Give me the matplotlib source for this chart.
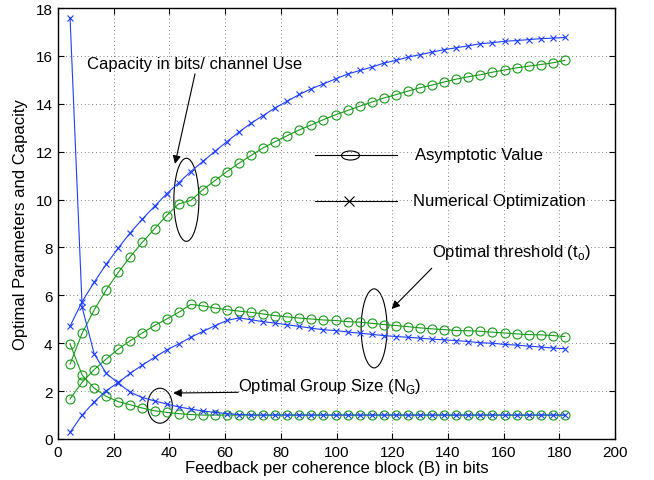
import matplotlib
matplotlib.use('Agg')
import matplotlib.pyplot as plt
import numpy as np
from matplotlib.patches import Ellipse
from matplotlib.path import Path

plt.rcParams['font.family'] = ['Liberation Sans', 'DejaVu Sans']
plt.rcParams['mathtext.fontset'] = 'custom'
plt.rcParams['mathtext.rm'] = 'Liberation Sans'

# feedback bits per coherence block
B = [4.33, 8.67, 13.0, 17.33, 21.67, 26.0, 30.33, 34.67, 39.0, 43.33,
     47.67, 52.0, 56.33, 60.67, 65.0, 69.33, 73.67, 78.0, 82.33, 86.67,
     91.0, 95.33, 99.67, 104.0, 108.33, 112.67, 117.0, 121.33, 125.67, 130.0,
     134.33, 138.67, 143.0, 147.33, 151.67, 156.0, 160.33, 164.67, 169.0, 173.33,
     177.67, 182.0]

# capacity
cap_num = [4.71, 5.74, 6.55, 7.30, 7.98, 8.62, 9.19, 9.72, 10.24, 10.70,
           11.17, 11.59, 12.01, 12.42, 12.82, 13.19, 13.51, 13.83, 14.11, 14.39,
           14.63, 14.83, 15.04, 15.24, 15.39, 15.53, 15.70, 15.81, 15.95, 16.05,
           16.16, 16.26, 16.34, 16.42, 16.51, 16.55, 16.61, 16.64, 16.68, 16.72,
           16.74, 16.77]
cap_asy = [3.13, 4.42, 5.39, 6.23, 6.96, 7.62, 8.22, 8.78, 9.33, 9.82,
           9.96, 10.41, 10.79, 11.17, 11.52, 11.84, 12.16, 12.42, 12.67, 12.91,
           13.12, 13.34, 13.54, 13.72, 13.90, 14.07, 14.24, 14.38, 14.53, 14.67,
           14.78, 14.91, 15.03, 15.13, 15.21, 15.32, 15.41, 15.50, 15.57, 15.64,
           15.71, 15.81]

# optimal threshold
thr_num = [0.28, 1.00, 1.55, 2.02, 2.36, 2.75, 3.09, 3.41, 3.72, 3.97,
           4.25, 4.49, 4.73, 4.95, 5.06, 4.98, 4.90, 4.84, 4.77, 4.70,
           4.63, 4.56, 4.53, 4.47, 4.42, 4.37, 4.32, 4.28, 4.25, 4.21,
           4.17, 4.14, 4.11, 4.07, 4.02, 4.00, 3.95, 3.92, 3.88, 3.84,
           3.80, 3.77]
thr_asy = [1.67, 2.37, 2.90, 3.34, 3.76, 4.11, 4.43, 4.74, 5.01, 5.29,
           5.62, 5.56, 5.47, 5.40, 5.34, 5.29, 5.22, 5.15, 5.10, 5.05,
           5.01, 4.97, 4.95, 4.90, 4.88, 4.83, 4.78, 4.74, 4.69, 4.64,
           4.60, 4.57, 4.53, 4.52, 4.50, 4.46, 4.43, 4.39, 4.36, 4.35,
           4.32, 4.28]

# optimal group size
grp_num = [17.6, 5.50, 3.55, 2.74, 2.33, 1.95, 1.73, 1.59, 1.46, 1.34,
           1.25, 1.17, 1.11, 1.06, 1.02] + [1.0] * 27
grp_asy = [3.97, 2.67, 2.12, 1.78, 1.56, 1.43, 1.29, 1.18, 1.11, 1.06,
           1.02] + [1.0] * 31

blue = '#1f3fff'
green = '#1a9a1a'
fs = 12

fig = plt.figure(figsize=(6.54, 4.81), dpi=100)
ax = fig.add_axes([58 / 654, 41 / 481, 557 / 654, 431 / 481])

circ = dict(marker='o', markersize=6.5, markerfacecolor='none', lw=0.8, mew=0.8)
cross = dict(marker='x', markersize=4.8, lw=0.8, mew=0.8)

for ys in (cap_asy, thr_asy, grp_asy):
    ax.plot(B, ys, color=green, **circ)
for ys in (cap_num, thr_num, grp_num):
    ax.plot(B, ys, color=blue, **cross)

ax.set_xlim(0, 200)
ax.set_ylim(0, 18)
ax.set_xticks(np.arange(0, 201, 20))
ax.set_yticks(np.arange(0, 19, 2))
ax.tick_params(direction='in', top=True, right=True, length=4, labelsize=11, pad=4)
ax.grid(True, color='#555555', linestyle=(0, (1, 3.5)), lw=0.6)
for s in ax.spines.values():
    s.set_linewidth(1.0)
ax.set_xlabel('Feedback per coherence block (B) in bits', fontsize=fs, labelpad=1)
ax.set_ylabel('Optimal Parameters and Capacity', fontsize=fs, labelpad=5)

# custom legend
ell = Path.unit_circle()
ell = Path(ell.vertices * [1.0, 0.5], ell.codes)
ax.plot([0.461, 0.609], [0.660, 0.660], color='k', lw=0.8, transform=ax.transAxes)
ax.plot([0.525], [0.660], color='k', marker=ell, markersize=13, mfc='none', mew=0.8,
        transform=ax.transAxes)
ax.text(0.641, 0.660, 'Asymptotic Value', transform=ax.transAxes, va='center', fontsize=fs)
ax.plot([0.461, 0.609], [0.553, 0.553], color='k', lw=0.8, transform=ax.transAxes)
ax.plot([0.523], [0.553], color='k', marker='x', markersize=7, mew=0.8,
        transform=ax.transAxes)
ax.text(0.637, 0.553, 'Numerical Optimization', transform=ax.transAxes, va='center', fontsize=fs)

# annotations
arrow = dict(arrowstyle='-|>', color='k', lw=0.8, mutation_scale=12, shrinkA=0, shrinkB=0)
ax.add_patch(Ellipse((46.1, 9.99), 9.0, 3.47, fill=False, color='k', lw=0.8))
ax.annotate('', xy=(42.0, 11.49), xytext=(49.2, 15.25), arrowprops=arrow)
ax.text(49.2, 15.67, 'Capacity in bits/ channel Use', ha='center', va='center', fontsize=fs)

ax.add_patch(Ellipse((113.5, 4.62), 9.3, 3.30, fill=False, color='k', lw=0.8))
ax.annotate('', xy=(119.8, 5.43), xytext=(134.2, 7.13), arrowprops=arrow)
ax.text(134.3, 7.81, r'Optimal threshold (t$_\mathregular{o}$)', ha='left', va='center', fontsize=fs)

ax.add_patch(Ellipse((36.6, 1.39), 8.87, 1.46, fill=False, color='k', lw=0.8))
ax.annotate('', xy=(41.4, 1.92), xytext=(64.7, 1.95), arrowprops=arrow)
ax.text(64.6, 2.23, r'Optimal Group Size (N$_\mathregular{G}$)', ha='left', va='center', fontsize=fs)

fig.savefig('out.png', dpi=100)
